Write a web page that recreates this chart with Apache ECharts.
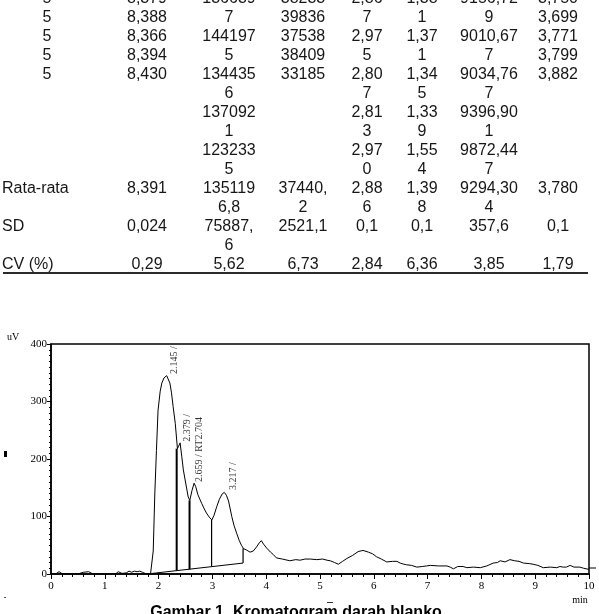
<!DOCTYPE html>
<html>
<head>
<meta charset="utf-8">
<script src="https://cdn.jsdelivr.net/npm/echarts@6/dist/echarts.min.js"></script>
<style>
  html, body { margin: 0; padding: 0; background: #fff; }
  #main { width: 599px; height: 614px; }
</style>
</head>
<body>
<div id="main"></div>
<script>
// table columns, one entry per printed line (cells wrap onto the next line)
const colLabel  = ["5", "5", "5", "5", "5", "", "", "", "", "", "Rata-rata", "", "SD", "", "CV (%)"];
const colTR     = ["8,379", "8,388", "8,366", "8,394", "8,430", "", "", "", "", "", "8,391", "", "0,024", "", "0,29"];
const colArea   = ["136639", "7", "144197", "5", "134435", "6", "137092", "1", "123233", "5", "135119", "6,8", "75887,", "6", "5,62"];
const colHeight = ["38233", "39836", "37538", "38409", "33185", "", "", "", "", "", "37440,", "2", "2521,1", "", "6,73"];
const colK      = ["2,86", "7", "2,97", "5", "2,80", "7", "2,81", "3", "2,97", "0", "2,88", "6", "0,1", "", "2,84"];
const colT      = ["1,38", "1", "1,37", "1", "1,34", "5", "1,33", "9", "1,55", "4", "1,39", "8", "0,1", "", "6,36"];
const colN      = ["9156,72", "9", "9010,67", "7", "9034,76", "7", "9396,90", "1", "9872,44", "7", "9294,30", "4", "357,6", "", "3,85"];
const colRs     = ["3,750", "3,699", "3,771", "3,799", "3,882", "", "", "", "", "", "3,780", "", "0,1", "", "1,79"];

// chromatogram trace (min, uV)
const time = [0, 0.1, 0.15, 0.2, 0.3, 0.5, 0.6, 0.7, 0.78, 1.2, 1.25, 1.32, 1.4, 1.45, 1.5, 1.55, 1.6, 1.65, 1.7, 1.75, 1.85,
  1.88, 1.9, 1.93, 1.96, 1.99, 2.03, 2.06, 2.1, 2.15, 2.18, 2.21, 2.24, 2.27, 2.31, 2.35, 2.37, 2.4, 2.43, 2.46, 2.5,
  2.55, 2.58, 2.62, 2.66, 2.69, 2.73, 2.8, 2.85, 2.89, 2.94, 2.99, 3.03, 3.08, 3.13, 3.18, 3.22, 3.26, 3.3, 3.36, 3.4,
  3.45, 3.5, 3.54, 3.58, 3.63, 3.7, 3.76, 3.82, 3.87, 3.91, 3.95, 4.01, 4.08, 4.13, 4.19, 4.3, 4.44, 4.55, 4.63, 4.72,
  4.82, 4.94, 5.05, 5.13, 5.19, 5.27, 5.34, 5.42, 5.5, 5.6, 5.71, 5.8, 5.9, 5.98, 6.05, 6.14, 6.24, 6.35, 6.43, 6.49,
  6.56, 6.61, 6.7, 6.8, 6.9, 6.98, 7.05, 7.2, 7.36, 7.42, 7.48, 7.56, 7.66, 7.73, 7.85, 7.98, 8.1, 8.22, 8.3, 8.35,
  8.44, 8.53, 8.62, 8.7, 8.78, 8.9, 8.96, 9.05, 9.15, 9.28, 9.4, 9.46, 9.52, 9.58, 9.65, 9.72, 9.83, 9.9, 10];
const signal = [0, 1, 4, 1, 0, 0, 3, 4, 0, 0, 4, 1, 2, 5, 3, 5, 4, 5, 3, 1, 0,
  2, 40, 141, 215, 285, 318, 332, 341, 345, 342, 332, 315, 291, 262, 218, 222, 228, 205, 181, 160,
  134, 128, 145, 158, 152, 138, 123, 113, 106, 99, 94, 102, 117, 130, 139, 142, 137, 127, 100, 85,
  71, 58, 50, 44, 42, 38, 40, 47, 54, 58, 52, 45, 38, 34, 28, 26, 23, 25, 24, 26,
  26, 25, 26, 24, 23, 20, 17, 22, 27, 32, 39, 41, 38, 35, 30, 26, 21, 22, 22, 19,
  17, 16, 15, 12, 13, 14, 15, 14, 14, 12, 9, 13, 13, 11, 12, 11, 14, 19, 20, 23,
  21, 25, 23, 22, 19, 18, 17, 15, 11, 12, 11, 13, 12, 12, 15, 12, 12, 10, 8];

// integration baseline and drop lines
const baseTime = [1.88, 3.57];
const baseValue = [1, 19];
const dropTime = [2.336, 2.575, 2.985, 3.57];
const dropBase = [6, 8, 13, 19];
const dropTop = [218, 128, 94, 45];

// peak annotations
const peakText = ["2.145 /", "2.379 /", "2.659 / RT2.704", "3.217 /"];
const peakTime = [2.3, 2.53, 2.76, 3.39];
const peakValue = [348, 230, 160, 146];

const chart = echarts.init(document.getElementById("main"));

const columns = [colLabel, colTR, colArea, colHeight, colK, colT, colN, colRs];
const colX = [47, 147, 229, 303, 367, 422, 489, 558];
const tableFont = "16px 'Liberation Sans', Arial, sans-serif";
const graphic = [];
columns.forEach((col, c) => {
  col.forEach((txt, r) => {
    if (!txt) return;
    const isName = c === 0 && isNaN(Number(txt));
    graphic.push({
      type: "text",
      style: {
        text: txt,
        x: isName ? 2 : colX[c],
        y: -1 + 19 * r,
        align: isName ? "left" : "center",
        verticalAlign: "middle",
        font: tableFont,
        fill: "#161616",
      },
    });
  });
});
graphic.push(
  { type: "line", shape: { x1: 3, y1: 273, x2: 588, y2: 273 }, style: { stroke: "#2a2a2a", lineWidth: 2 } },
  { type: "text", style: { text: "uV", x: 13, y: 337, align: "center", verticalAlign: "middle", font: "10px 'Liberation Serif', serif", fill: "#000" } },
  { type: "text", style: { text: "min", x: 580, y: 600, align: "center", verticalAlign: "middle", font: "10px 'Liberation Serif', serif", fill: "#000" } },
  { type: "line", shape: { x1: 589, y1: 568, x2: 596, y2: 568 }, style: { stroke: "#000", lineWidth: 1 } },
  { type: "rect", shape: { x: 4, y: 451, width: 3, height: 6 }, style: { fill: "#000" } },
  { type: "rect", shape: { x: 327, y: 602, width: 6, height: 1 }, style: { fill: "#333" } },
  { type: "rect", shape: { x: 4, y: 597, width: 2, height: 1 }, style: { fill: "#555" } },
  {
    type: "text",
    style: {
      text: "Gambar 1. Kromatogram darah blanko",
      x: 296, y: 605, align: "center", verticalAlign: "top",
      font: "bold 16px 'Liberation Sans', Arial, sans-serif", fill: "#000",
    },
  }
);

const series = [
  {
    type: "line",
    data: time.map((t, i) => [t, signal[i]]),
    showSymbol: false,
    lineStyle: { color: "#000", width: 1 },
    z: 3,
  },
  {
    type: "line",
    data: baseTime.map((t, i) => [t, baseValue[i]]),
    showSymbol: false,
    lineStyle: { color: "#000", width: 1 },
  },
];
dropTime.forEach((t, i) => {
  series.push({
    type: "line",
    data: [[t, dropBase[i]], [t, dropTop[i]]],
    showSymbol: false,
    lineStyle: { color: "#000", width: i < 2 ? 2 : 1.2 },
  });
});
series.push({
  type: "scatter",
  symbolSize: 0,
  data: peakTime.map((t, i) => [t, peakValue[i], peakText[i]]),
  label: {
    show: true,
    position: [0, 0],
    rotate: 90,
    align: "left",
    verticalAlign: "middle",
    formatter: (p) => p.value[2],
    fontFamily: "'Liberation Serif', serif",
    fontSize: 10,
    color: "#000",
  },
});

const axisCommon = {
  type: "value",
  axisLine: { show: true, lineStyle: { color: "#000", width: 1.5 } },
  axisTick: { show: true, length: 5, lineStyle: { color: "#000" } },
  splitLine: { show: false },
  axisLabel: { color: "#000", fontFamily: "'Liberation Serif', serif", fontSize: 11 },
};

chart.setOption({
  animation: false,
  backgroundColor: "#fff",
  grid: { left: 51, top: 344, width: 538, height: 230, show: true, borderColor: "#000", borderWidth: 1.5 },
  xAxis: Object.assign({}, axisCommon, {
    min: 0, max: 10, interval: 1,
    minorTick: { show: true, splitNumber: 5, length: 3, lineStyle: { color: "#000" } },
    axisLabel: Object.assign({}, axisCommon.axisLabel, { margin: 7 }),
  }),
  yAxis: Object.assign({}, axisCommon, {
    min: 0, max: 400, interval: 100,
    axisTick: { show: true, length: 4, lineStyle: { color: "#000" } },
    minorTick: { show: true, splitNumber: 10, length: 2, lineStyle: { color: "#000" } },
    axisLabel: Object.assign({}, axisCommon.axisLabel, { margin: 4 }),
  }),
  graphic: graphic,
  series: series,
});
</script>
</body>
</html>
